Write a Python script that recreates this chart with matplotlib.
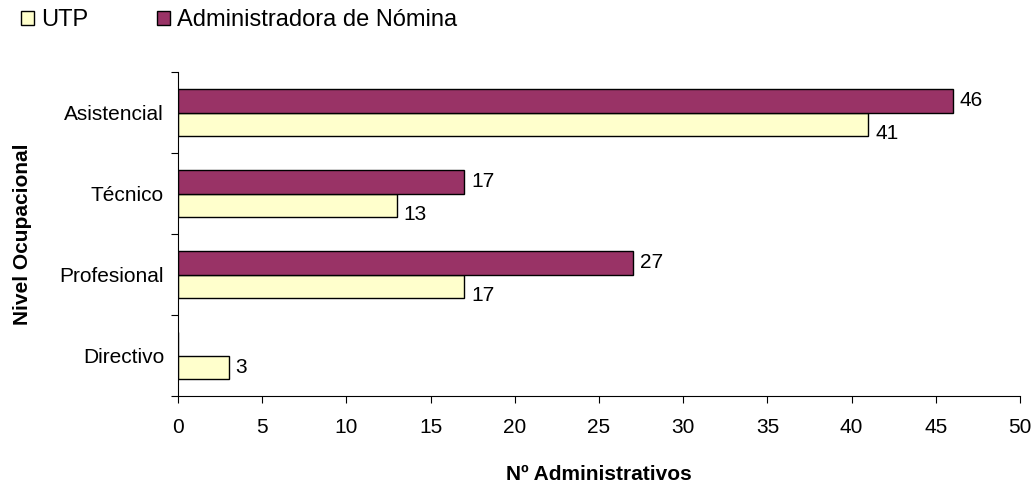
import matplotlib.pyplot as plt
import numpy as np

plt.rcParams["font.family"] = ["Liberation Sans", "DejaVu Sans"]

categories = ["Directivo", "Profesional", "Técnico", "Asistencial"]
utp = [3, 17, 13, 41]
nomina = [0, 27, 17, 46]
series_names = ["UTP", "Administradora de Nómina"]
x_ticks = list(range(0, 55, 5))

FS = 15

fig = plt.figure(figsize=(10.33, 4.87), dpi=100)
ax = fig.add_axes([178 / 1033, 91 / 487, 842 / 1033, 324 / 487])

y = np.arange(len(categories))
h = 0.29
b_utp = ax.barh(y - h / 2, utp, height=h, color="#FFFFCC", edgecolor="black", linewidth=1, label=series_names[0])
b_nom = ax.barh(y + h / 2, nomina, height=h, color="#993366", edgecolor="black", linewidth=1, label=series_names[1])

for i, v in enumerate(nomina):
    if v:
        ax.annotate(str(v), (v, y[i] + h / 2), xytext=(5, 0), textcoords="offset points",
                    va="center", ha="left", fontsize=FS)
for i, v in enumerate(utp):
    dy = -7 if nomina[i] else 0
    ax.annotate(str(v), (v, y[i] - h / 2), xytext=(5, dy), textcoords="offset points",
                va="center", ha="left", fontsize=FS)

ax.set_xlim(0, 50)
ax.set_ylim(-0.5, len(categories) - 0.5)
ax.set_xticks(x_ticks)
ax.set_yticks(np.arange(-0.5, len(categories), 1.0))
ax.set_yticklabels([])
ax.set_yticks(y, minor=True)
ax.set_yticklabels(categories, minor=True)
ax.tick_params(axis="y", which="minor", length=0, pad=10, labelsize=FS)
ax.tick_params(axis="y", which="major", length=5, direction="out")
ax.tick_params(axis="x", length=5, direction="out", labelsize=FS, pad=11)
for s in ["top", "right"]:
    ax.spines[s].set_visible(False)

ax.set_xlabel("Nº Administrativos", fontsize=FS, fontweight="bold", labelpad=20)
ax.set_ylabel("Nivel Ocupacional", fontsize=FS, fontweight="bold", labelpad=20)

fig.legend(handles=[b_utp, b_nom], loc="upper left", bbox_to_anchor=(0.0, 1.025), ncol=2,
           frameon=False, fontsize=17, handlelength=0.55, handleheight=0.55,
           handletextpad=0.3, columnspacing=2.9)

fig.savefig("out.png", dpi=100)
